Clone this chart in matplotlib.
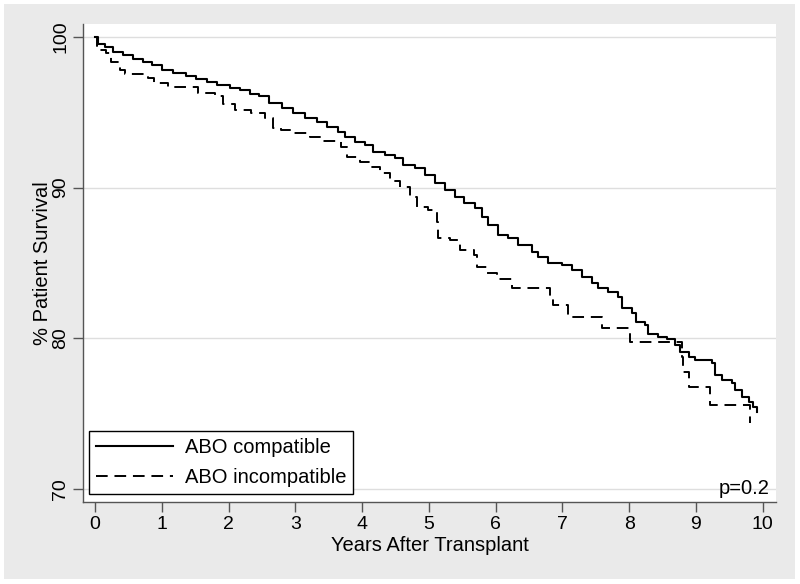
"""ABO compatible vs incompatible: Kaplan-Meier patient survival."""
import matplotlib
matplotlib.use("Agg")
import matplotlib.pyplot as plt
from matplotlib.patches import Rectangle

plt.rcParams["font.family"] = ["Liberation Sans", "DejaVu Sans"]

# ---------------------------------------------------------------------------
# Data (years, % survival)
# ---------------------------------------------------------------------------
compat_years = [0.00, 0.05, 0.15, 0.27, 0.42, 0.57, 0.72, 0.85, 1.00, 1.17,
                1.37, 1.52, 1.67, 1.82, 2.02, 2.17, 2.32, 2.45, 2.60, 2.80,
                2.97, 3.15, 3.32, 3.47, 3.64, 3.74, 3.89, 4.04, 4.17, 4.34,
                4.49, 4.62, 4.79, 4.94, 5.09, 5.24, 5.39, 5.52, 5.69, 5.79,
                5.89, 6.04, 6.19, 6.34, 6.54, 6.64, 6.79, 6.99, 7.14, 7.29,
                7.44, 7.54, 7.69, 7.84, 7.89, 8.04, 8.11, 8.24, 8.29, 8.44,
                8.56, 8.69, 8.76, 8.89, 8.99, 9.24, 9.29, 9.39, 9.54, 9.59,
                9.69, 9.79, 9.86, 9.91]
compat_surv = [100.0, 99.56, 99.34, 99.0, 98.78, 98.56, 98.34, 98.12, 97.79, 97.63,
               97.41, 97.19, 97.01, 96.79, 96.62, 96.46, 96.24, 96.06, 95.60, 95.27,
               94.94, 94.60, 94.38, 94.05, 93.72, 93.38, 93.05, 92.83, 92.39, 92.17,
               91.95, 91.51, 91.29, 90.84, 90.29, 89.85, 89.40, 88.96, 88.63, 88.08,
               87.52, 86.86, 86.64, 86.20, 85.75, 85.38, 84.98, 84.87, 84.54, 84.09,
               83.70, 83.32, 83.10, 82.77, 82.00, 81.66, 81.11, 80.89, 80.29, 80.11,
               79.94, 79.56, 79.12, 78.75, 78.57, 78.35, 77.57, 77.24, 77.02, 76.58,
               76.13, 75.80, 75.47, 75.14]

incompat_years = [0.00, 0.03, 0.07, 0.17, 0.24, 0.37, 0.45, 0.79, 0.89, 1.09,
                  1.54, 1.79, 1.92, 2.09, 2.34, 2.54, 2.67, 2.79, 2.97, 3.22,
                  3.42, 3.69, 3.77, 3.97, 4.14, 4.27, 4.42, 4.57, 4.72, 4.82,
                  4.99, 5.12, 5.14, 5.32, 5.47, 5.67, 5.72, 5.87, 6.02, 6.24,
                  6.81, 6.86, 7.09, 7.59, 8.01, 8.79, 8.81, 8.89, 9.21, 9.81]
incompat_surv = [100.0, 99.4, 99.14, 98.92, 98.36, 97.8, 97.55, 97.26, 96.93, 96.66,
                 96.30, 96.10, 95.55, 95.16, 94.98, 94.60, 93.95, 93.85, 93.6, 93.38,
                 93.12, 92.72, 92.06, 91.73, 91.39, 91.00, 90.45, 90.07, 89.40, 88.74,
                 88.52, 87.74, 86.64, 86.53, 85.87, 85.53, 84.76, 84.36, 83.92, 83.32,
                 82.66, 82.22, 81.44, 80.71, 79.75, 78.79, 77.79, 76.80, 75.58, 74.37]

x_ticks = list(range(0, 11))
y_ticks = [70, 80, 90, 100]
p_text = "p=0.2"

# ---------------------------------------------------------------------------
# Figure
# ---------------------------------------------------------------------------
fig = plt.figure(figsize=(8.0, 5.84), dpi=100, facecolor="white")
# grey graph region (Stata-like), kept behind the axes
fig.patches.append(Rectangle((4 / 800, 5 / 584), 791 / 800, 575 / 584,
                             transform=fig.transFigure, facecolor="#eaeaea",
                             edgecolor="none", zorder=-10))

ax = fig.add_axes([83 / 800, 1 - 502 / 584, 693 / 800, 478 / 584])
ax.set_zorder(1)
ax.set_facecolor("white")

ax.plot(compat_years, compat_surv, drawstyle="steps-post",
        color="black", linewidth=1.5, label="ABO compatible")
ax.plot(incompat_years, incompat_surv, drawstyle="steps-post",
        color="black", linewidth=1.4, linestyle=(0, (6, 3.5)),
        label="ABO incompatible")

ax.set_xlim(-0.18, 10.2)
ax.set_ylim(69.14, 100.86)
ax.set_xticks(x_ticks)
ax.set_yticks(y_ticks)
ax.set_yticklabels([str(v) for v in y_ticks], rotation=90, va="center")
ax.grid(True, axis="y", color="#dedede", linewidth=1.0)
ax.set_axisbelow(True)

for side in ("top", "right"):
    ax.spines[side].set_visible(False)
for side in ("left", "bottom"):
    ax.spines[side].set_color("#555555")
    ax.spines[side].set_linewidth(1.0)
ax.tick_params(axis="both", direction="out", length=7, width=1.0,
               color="#555555", labelsize=14, pad=3)

ax.set_xlabel("Years After Transplant", fontsize=14.5, labelpad=2)
ax.set_ylabel("% Patient Survival", fontsize=14.5, labelpad=0)

leg = ax.legend(loc="lower left", bbox_to_anchor=(0.0087, 0.0167),
                borderaxespad=0, fontsize=14.5, handlelength=3.8,
                fancybox=False, framealpha=1, edgecolor="black",
                borderpad=0.35, labelspacing=0.55, handletextpad=0.6)
leg.get_frame().set_linewidth(1.0)

ax.text(0.99, 0.017, p_text, transform=ax.transAxes, ha="right",
        va="baseline", fontsize=14.5)

fig.savefig("out.png", dpi=100, facecolor=fig.get_facecolor())
